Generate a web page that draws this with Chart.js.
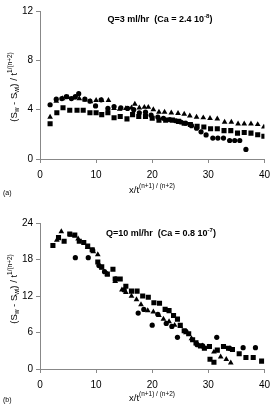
<!DOCTYPE html>
<html><head><meta charset="utf-8">
<script src="https://cdn.jsdelivr.net/npm/chart.js@4/dist/chart.umd.min.js"></script>
<style>
body{margin:0;background:#fff;width:276px;height:414px;overflow:hidden}
.w{position:absolute;left:0;width:276px;height:207px}
</style></head><body>
<div class="w" style="top:0"><canvas id="c1" width="276" height="207"></canvas></div>
<div class="w" style="top:207px"><canvas id="c2" width="276" height="207"></canvas></div>
<script>
// ---------- data ----------
const xTicks = [0, 10, 20, 30, 40];
const yTicksA = [0, 4, 8, 12];
const yTicksB = [0, 6, 12, 18, 24];

// Panel (a): Q = 3 ml/hr
const aCircleX = [1.8,2.9,3.9,4.7,5.6,6.3,6.9,8.0,8.9,9.9,10.9,12.1,13.2,14.4,15.6,16.7,17.7,18.8,19.8,21.0,22.0,23.1,24.2,25.1,26.0,27.0,27.9,28.7,29.6,30.8,31.7,32.7,33.8,34.7,35.6,36.7];
const aCircleY = [4.4,4.85,4.9,5.05,4.9,5.05,5.3,4.85,4.7,4.3,4.8,4.1,4.25,4.15,4.1,4.0,3.75,3.8,3.55,3.4,3.3,3.2,3.1,3.0,2.9,2.7,2.5,2.2,1.95,1.7,1.7,1.7,1.5,1.5,1.5,0.78];
const aTriX = [1.8,2.9,4.0,5.0,6.0,7.0,8.0,9.0,10.0,11.0,12.2,13.2,14.2,15.3,16.3,16.9,17.7,18.6,19.3,20.2,21.2,22.2,23.4,24.6,25.7,26.7,27.9,29.1,30.3,31.6,32.9,34.1,35.3,36.4,37.6,38.8,39.9];
const aTriY = [3.4,4.7,4.9,5.0,4.95,4.9,4.8,4.65,4.75,4.75,4.75,4.1,4.05,4.1,4.15,4.45,4.15,4.2,4.2,4.0,3.8,3.8,3.75,3.7,3.65,3.5,3.4,3.35,3.3,3.25,3.0,3.0,2.85,2.85,2.85,2.8,2.6];
const aSqX = [1.8,3.0,4.1,5.3,6.6,7.7,8.9,10.0,11.0,12.1,13.2,14.3,15.5,16.5,17.6,18.8,20.0,21.2,22.4,23.6,24.7,25.7,26.8,28.0,29.2,30.4,31.6,32.8,34.0,35.2,36.4,37.6,38.8,39.9];
const aSqY = [2.86,3.75,4.15,3.95,3.95,3.95,3.75,3.75,3.6,3.75,3.35,3.45,3.25,3.6,3.45,3.45,3.3,3.15,3.15,3.15,3.05,2.9,2.8,2.65,2.6,2.45,2.45,2.3,2.3,2.1,2.15,2.1,1.97,1.85];

// Panel (b): Q = 10 ml/hr
const bCircleX = [6.3,8.6,9.4,10.5,11.5,13.5,15.0,17.5,18.5,20.0,21.0,22.5,23.5,24.5,26.0,28.0,29.0,31.5,33.8,36.2,38.4];
const bCircleY = [18.3,18.3,19.5,17.0,16.0,14.8,13.0,9.2,9.8,7.2,9.0,7.5,7.0,5.2,6.2,4.0,3.8,5.2,3.4,3.5,3.5];
const bTriX = [3.0,3.8,5.5,6.8,8.5,9.5,10.3,11.0,12.0,13.4,14.6,15.3,16.3,17.2,18.0,19.2,20.2,21.2,22.0,23.0,24.0,25.0,26.0,27.0,28.0,29.0,30.0,31.0,32.2,33.2,34.0];
const bTriY = [21.2,22.6,22.0,21.4,20.0,19.3,18.8,16.6,15.6,14.4,13.0,12.6,12.0,11.4,10.6,9.6,9.4,8.8,8.2,7.8,7.2,7.0,6.0,5.0,4.2,3.8,3.6,2.8,2.0,1.6,1.0];
const bSqX = [2.3,3.3,4.3,5.3,6.2,7.0,7.8,8.5,9.3,10.3,11.0,12.0,13.0,13.4,14.3,15.3,16.3,17.3,18.3,19.3,20.3,21.3,22.3,23.0,23.8,24.5,25.0,25.7,26.5,27.2,27.8,28.6,29.3,30.2,30.3,31.0,31.6,32.7,33.6,34.3,35.5,36.7,38.0,39.5];
const bSqY = [20.3,21.6,21.0,22.2,22.0,21.0,20.8,20.2,19.6,17.6,16.8,15.6,16.4,14.8,14.8,13.6,12.8,12.8,12.0,11.8,10.9,10.8,9.8,9.6,8.8,8.2,7.2,6.3,5.8,4.8,4.3,3.8,3.4,3.7,1.6,1.1,3.1,3.7,3.4,3.2,2.5,1.9,1.9,1.3];

// ---------- helpers ----------
const FONT = '"Liberation Sans", Arial, sans-serif';
const pts = (xs, ys) => xs.map((x, i) => ({x, y: ys[i]}));

function richWidth(ctx, segs, size, weight) {
  let w = 0;
  for (const s of segs) {
    const fs = s.k === 'n' ? size : size * 0.68;
    ctx.font = weight + ' ' + fs + 'px ' + FONT;
    w += ctx.measureText(s.t).width;
  }
  return w;
}
function drawRich(ctx, segs, x, y, size, weight) {
  // x = center, y = middle baseline
  const total = richWidth(ctx, segs, size, weight);
  let cx = x - total / 2;
  ctx.textBaseline = 'middle';
  ctx.textAlign = 'left';
  ctx.fillStyle = '#000';
  for (const s of segs) {
    const fs = s.k === 'n' ? size : size * 0.68;
    ctx.font = weight + ' ' + fs + 'px ' + FONT;
    let dy = 0;
    if (s.k === 'sup') dy = -size * 0.38;
    if (s.k === 'sub') dy = size * 0.3;
    ctx.fillText(s.t, cx, y + dy);
    cx += ctx.measureText(s.t).width;
  }
}

const yTitleSegs = [
  {t:'(S', k:'n'}, {t:'w', k:'sub'}, {t:' - S', k:'n'}, {t:'wi', k:'sub'},
  {t:') / t', k:'n'}, {t:'1/(n+2)', k:'sup'}
];
const xTitleSegs = [{t:'x/t', k:'n'}, {t:'(n+1) / (n+2)', k:'sup'}];

function textPlugin(titleSegs, titleX, titleY, yTitleY, xTitleY, panel, panelY) {
  return {
    id: 'rich',
    afterDraw(chart) {
      const ctx = chart.ctx;
      ctx.save();
      drawRich(ctx, titleSegs, titleX, titleY, 9, 'bold');
      drawRich(ctx, xTitleSegs, 152, xTitleY, 9.5, 'normal');
      ctx.save();
      ctx.translate(14, yTitleY);
      ctx.rotate(-Math.PI / 2);
      drawRich(ctx, yTitleSegs, 0, 0, 9.5, 'normal');
      ctx.restore();
      ctx.font = '7px ' + FONT;
      ctx.textAlign = 'left';
      ctx.textBaseline = 'middle';
      ctx.fillText(panel, 3, panelY);
      ctx.restore();
    }
  };
}

function makeChart(id, cx, cy, tx, ty, sx, sy, yMax, yTicks, topPad, xH, plugin) {
  return new Chart(document.getElementById(id), {
    type: 'scatter',
    data: {
      datasets: [
        {data: pts(cx, cy), pointStyle: 'circle', pointRadius: 2.6, backgroundColor: '#000', borderColor: '#000', borderWidth: 0},
        {data: pts(tx, ty), pointStyle: 'triangle', pointRadius: 3.3, backgroundColor: '#000', borderColor: '#000', borderWidth: 0},
        {data: pts(sx, sy), pointStyle: 'rect', pointRadius: 3.6, backgroundColor: '#000', borderColor: '#000', borderWidth: 0}
      ]
    },
    options: {
      responsive: false,
      animation: false,
      events: [],
      layout: {padding: {top: topPad, right: 11, left: 0, bottom: 0}},
      plugins: {legend: {display: false}, tooltip: {enabled: false}},
      scales: {
        x: {
          type: 'linear', min: 0, max: 40,
          afterBuildTicks: s => { s.ticks = xTicks.map(v => ({value: v})); },
          afterFit: s => { s.height = xH; },
          grid: {drawOnChartArea: false, drawTicks: true, tickLength: 4, color: '#888'},
          border: {display: true, color: '#888', width: 1},
          ticks: {color: '#000', padding: 6, font: {family: FONT, size: 10}, maxRotation: 0}
        },
        y: {
          type: 'linear', min: 0, max: yMax,
          afterBuildTicks: s => { s.ticks = yTicks.map(v => ({value: v})); },
          afterFit: s => { s.width = 40; },
          grid: {drawOnChartArea: false, drawTicks: true, tickLength: 4, color: '#888'},
          border: {display: true, color: '#888', width: 1},
          ticks: {color: '#000', padding: 3, font: {family: FONT, size: 10}}
        }
      }
    },
    plugins: [plugin]
  });
}

const titleA = [{t:'Q=3 ml/hr  (Ca = 2.4 10', k:'n'}, {t:'-8', k:'sup'}, {t:')', k:'n'}];
const titleB = [{t:'Q=10 ml/hr  (Ca = 0.8 10', k:'n'}, {t:'-7', k:'sup'}, {t:')', k:'n'}];

makeChart('c1', aCircleX, aCircleY, aTriX, aTriY, aSqX, aSqY, 12, yTicksA, 11, 48,
  textPlugin(titleA, 160, 20, 87, 190, '(a)', 193));
makeChart('c2', bCircleX, bCircleY, bTriX, bTriY, bSqX, bSqY, 24, yTicksB, 16, 45,
  textPlugin(titleB, 161, 27, 82, 191, '(b)', 193));
</script>
</body></html>
